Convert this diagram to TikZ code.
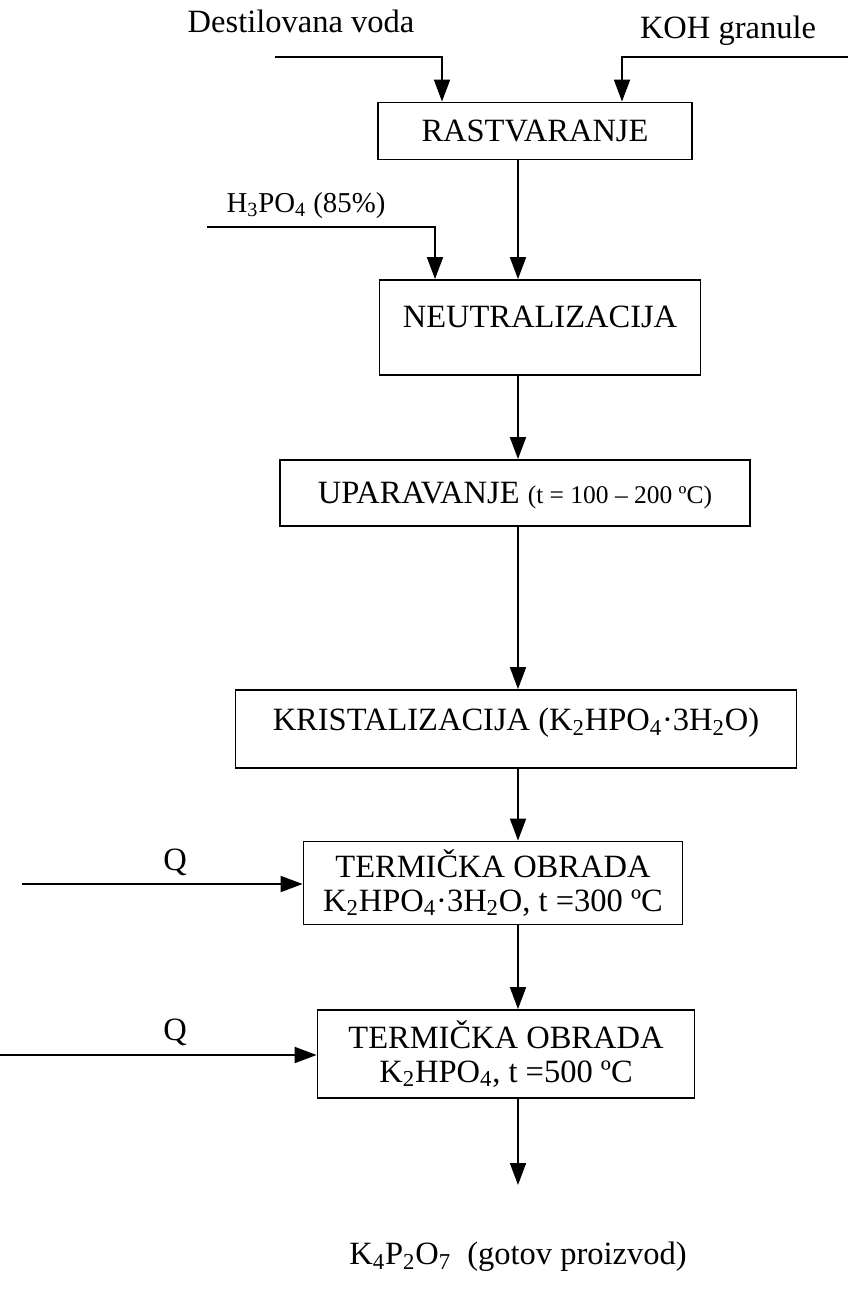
\documentclass[tikz,border=0pt]{standalone}
\usepackage{fontspec}
\setmainfont{Liberation Serif}
\usetikzlibrary{arrows.meta}

\begin{document}
\begin{tikzpicture}[x=0.02cm,y=-0.02cm,
  box/.style={draw,line width=1pt,inner sep=0pt,font=\fontsize{18.5}{19}\selectfont},
  lab/.style={inner sep=0pt,font=\fontsize{18.5}{19}\selectfont},
  flow/.style={line width=1.3pt,-{Triangle[length=12.5pt,width=9pt]}}]
%\draw [help lines] (0,0) grid (848,1295);
\useasboundingbox (0,0) rectangle (848,1295);

\coordinate (S) at (518,0);

\node[box,minimum width=6.28cm,minimum height=1.14cm,text height=12pt,text depth=0pt] (B1) at (535,131) {RASTVARANJE};
\node[box,minimum width=6.42cm,minimum height=1.9cm,text height=12pt,text depth=12.4pt] (B2) at (540,327.5) {NEUTRALIZACIJA};
\node[box,minimum width=9.4cm,minimum height=1.32cm,text height=12pt,text depth=0pt] (B3) at (515,493)
  {UPARAVANJE {\fontsize{14.5}{15}\selectfont(t = 100 -- 200 ºC)}};
\node[box,minimum width=11.22cm,minimum height=1.56cm,text height=12pt,text depth=10pt] (B4) at (516,729)
  {KRISTALIZACIJA (K\textsubscript{2}HPO\textsubscript{4}·3H\textsubscript{2}O)};

\node[box,align=center,minimum width=7.58cm,minimum height=1.66cm] (B5) at (493,883)
  {TERMIČKA OBRADA\\K\textsubscript{2}HPO\textsubscript{4}·3H\textsubscript{2}O, t =300 ºC};
\node[box,align=center,minimum width=7.54cm,minimum height=1.76cm] (B6) at (506,1054)
  {TERMIČKA OBRADA\\K\textsubscript{2}HPO\textsubscript{4}, t =500 ºC};

% inputs
\node[lab,anchor=base] (L1) at (301,32) {Destilovana voda};
\node[lab,anchor=base] (L2) at (728,38) {KOH granule};
\node[lab,anchor=base,font=\fontsize{16.4}{17}\selectfont] (L3) at (306,212) {H\textsubscript{3}PO\textsubscript{4} (85\%)};
\node[lab] (L4) at (175,862) {Q};
\node[lab] (L5) at (175,1032) {Q};
\node[lab] (L6) at (518,1257) {K\textsubscript{4}P\textsubscript{2}O\textsubscript{7}~~(gotov proizvod)};

\coordinate (I1) at (275,57);
\coordinate (I2) at (848,57);
\coordinate (I3) at (207,227);
\coordinate (Q1) at (22,884);
\coordinate (Q2) at (0,1055);
\coordinate (E) at (518,1185);

% feeds
\draw[flow] (I1) -| (B1.north -| 442,0);
\draw[flow] (I2) -| (B1.north -| 622,0);
\draw[flow] (I3) -| (B2.north -| 435,0);

\path[flow]
(B1.south -| S) edge (B2.north -| S)
(B2.south -| S) edge (B3.north -| S)
(B3.south -| S) edge (B4.north -| S)
(B4.south -| S) edge (B5.north -| S)
(B5.south -| S) edge (B6.north -| S)
(B6.south -| S) edge (E)

% heat
(Q1) edge (Q1 -| B5.west)
(Q2) edge (Q2 -| B6.west);

\end{tikzpicture}
\end{document}
